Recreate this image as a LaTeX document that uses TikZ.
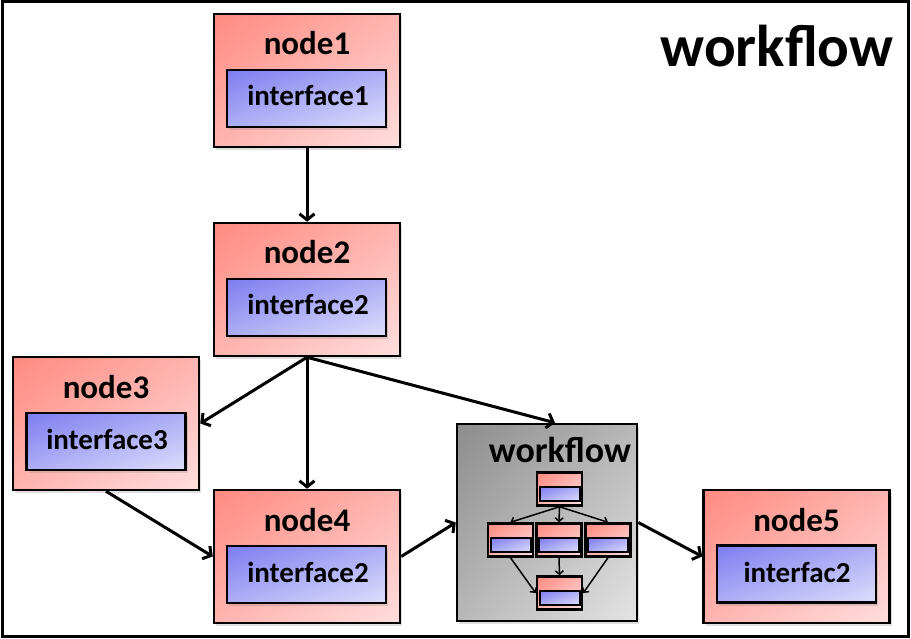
\documentclass[tikz,border=0pt]{standalone}
\usepackage{fontspec}
\setmainfont{Carlito}
\usetikzlibrary{arrows.meta,shadows,calc,shadings}
\definecolor{rTL}{RGB}{255,138,128}
\definecolor{rBR}{RGB}{255,222,222}
\colorlet{rMID}{rTL!50!rBR}
\definecolor{bTL}{RGB}{125,125,240}
\definecolor{bBR}{RGB}{222,222,252}
\colorlet{bMID}{bTL!50!bBR}
\definecolor{gTL}{RGB}{140,140,140}
\definecolor{gBR}{RGB}{228,228,228}
\colorlet{gMID}{gTL!50!gBR}
\tikzset{
  outerbox/.style={draw=black, line width=2.5pt, minimum width=186pt, minimum height=133pt, inner sep=0pt,
    upper left=rTL, upper right=rMID, lower left=rMID, lower right=rBR,
    drop shadow={opacity=0.25, shadow xshift=2pt, shadow yshift=-3pt}},
  innerbox/.style={draw=black, line width=2.5pt, minimum width=159pt, minimum height=57pt, inner sep=0pt,
    upper left=bTL, upper right=bMID, lower left=bMID, lower right=bBR,
    drop shadow={opacity=0.25, shadow xshift=2pt, shadow yshift=-3pt}},
  wfbox/.style={draw=black, line width=2.5pt, minimum width=180pt, minimum height=197pt, inner sep=0pt,
    upper left=gTL, upper right=gMID, lower left=gMID, lower right=gBR,
    drop shadow={opacity=0.25, shadow xshift=2pt, shadow yshift=-3pt}},
  nodelabel/.style={anchor=base, inner sep=0pt, font=\fontsize{33}{35}\selectfont\bfseries},
  iflabel/.style={anchor=base, inner sep=0pt, font=\fontsize{29}{31}\selectfont\bfseries},
  mini/.style={draw=black, line width=2.5pt, minimum width=45pt, minimum height=33pt, inner sep=0pt,
    upper left=rTL, upper right=rMID, lower left=rMID, lower right=rBR},
  miniin/.style={draw=black, line width=2pt, minimum width=40pt, minimum height=14pt, inner sep=0pt,
    upper left=bTL, upper right=bMID, lower left=bMID, lower right=bBR},
  conn/.style={line width=3pt, -{Straight Barb[length=6pt,width=15pt,line width=3pt]}},
  miniconn/.style={line width=1.5pt, -{Straight Barb[length=3.5pt,width=8pt,line width=1.5pt]}},
}
\begin{document}
\begin{tikzpicture}[x=1pt,y=-1pt]
\useasboundingbox (0,0) rectangle (911,639);
\draw[line width=3pt] (2,2) rectangle (908,636);
\node[anchor=base, inner sep=0pt, font=\fontsize{59}{61}\selectfont\bfseries] (title) at (777,67) {workflow};

% node1
\node[outerbox] (n1) at (307,80.5) {};
\node[nodelabel] (n1l) at (307,55) {node1};
\node[innerbox] (n1i) at (306.5,98.5) {};
\node[iflabel] (n1t) at (308,106) {interface1};
% node2
\node[outerbox] (n2) at (307,289.5) {};
\node[nodelabel] (n2l) at (307,264) {node2};
\node[innerbox] (n2i) at (306.5,307.5) {};
\node[iflabel] (n2t) at (308,315) {interface2};
% node3
\node[outerbox] (n3) at (106,423.5) {};
\node[nodelabel] (n3l) at (106,398) {node3};
\node[innerbox] (n3i) at (106,441.5) {};
\node[iflabel] (n3t) at (107,449) {interface3};
% node4
\node[outerbox] (n4) at (307,556.5) {};
\node[nodelabel] (n4l) at (307,531) {node4};
\node[innerbox] (n4i) at (306.5,574.5) {};
\node[iflabel] (n4t) at (308,582) {interface2};
% node5
\node[outerbox] (n5) at (796.5,556.5) {};
\node[nodelabel] (n5l) at (796.5,531) {node5};
\node[innerbox] (n5i) at (796.5,574) {};
\node[iflabel] (n5t) at (797,582) {interfac2};
% workflow
\node[wfbox] (wf) at (547,522.5) {};
\node[anchor=base, inner sep=0pt, font=\fontsize{36}{38}\selectfont\bfseries] (wft) at (560,462) {workflow};
\node[mini] (m1) at (559.5,489) {};
\node[miniin] (m1i) at (559.5,494) {};
\node[mini] (m2) at (510.5,540) {};
\node[miniin] (m2i) at (510.5,545) {};
\node[mini] (m3) at (559,540) {};
\node[miniin] (m3i) at (559,545) {};
\node[mini] (m4) at (608,540) {};
\node[miniin] (m4i) at (608,545) {};
\node[mini] (m5) at (559.5,593) {};
\node[miniin] (m5i) at (559.5,598) {};
\draw[miniconn] (m1.south) -- (m2.north);
\draw[miniconn] (m1.south) -- (m3.north);
\draw[miniconn] (m1.south) -- (m4.north);
\draw[miniconn] (m2.south) -- (m5.west);
\draw[miniconn] (m3.south) -- (m5.north);
\draw[miniconn] (m4.south) -- (m5.east);

% connectors
\draw[conn] (n1.south) -- (n2.north);
\draw[conn] (n2.south) -- (n3.east);
\draw[conn] (n2.south) -- (n4.north);
\draw[conn] (n2.south) -- ([xshift=8pt]wf.north);
\draw[conn] (n3.south) -- (n4.west);
\draw[conn] (n4.east) -- (wf.west);
\draw[conn] (wf.east) -- (n5.west);
\end{tikzpicture}
\end{document}
